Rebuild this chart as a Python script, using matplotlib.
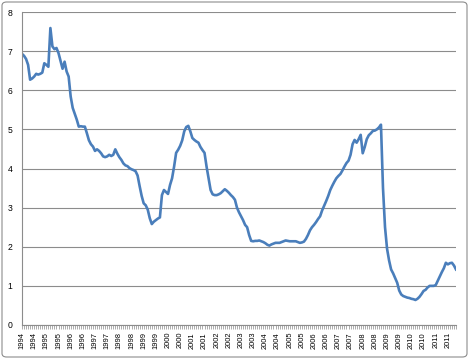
import matplotlib.pyplot as plt
from matplotlib.patches import FancyBboxPatch
from matplotlib.ticker import FixedLocator, MultipleLocator

# monthly values, Jan 1994 .. Nov 2011
y1994 = [6.93, 6.88, 6.80, 6.65, 6.27, 6.30, 6.35, 6.42, 6.40, 6.42, 6.45, 6.69]
y1995 = [6.65, 6.60, 7.59, 7.12, 7.05, 7.08, 6.95, 6.75, 6.55, 6.73, 6.48, 6.35]
y1996 = [5.84, 5.55, 5.40, 5.25, 5.07, 5.08, 5.07, 5.07, 4.90, 4.72, 4.62, 4.56]
y1997 = [4.45, 4.49, 4.45, 4.39, 4.31, 4.29, 4.31, 4.35, 4.32, 4.35, 4.49, 4.38]
y1998 = [4.29, 4.22, 4.13, 4.08, 4.06, 4.01, 3.98, 3.96, 3.93, 3.82, 3.55, 3.30]
y1999 = [3.11, 3.06, 2.95, 2.73, 2.58, 2.64, 2.68, 2.72, 2.75, 3.32, 3.45, 3.40]
y2000 = [3.35, 3.58, 3.75, 4.05, 4.40, 4.48, 4.58, 4.72, 4.95, 5.06, 5.09, 4.95]
y2001 = [4.78, 4.73, 4.69, 4.66, 4.55, 4.47, 4.40, 4.05, 3.75, 3.45, 3.34, 3.32]
y2002 = [3.32, 3.34, 3.37, 3.42, 3.47, 3.43, 3.38, 3.32, 3.27, 3.20, 3.00, 2.88]
y2003 = [2.78, 2.68, 2.56, 2.50, 2.30, 2.15, 2.14, 2.15, 2.15, 2.16, 2.14, 2.12]
y2004 = [2.09, 2.05, 2.03, 2.06, 2.08, 2.10, 2.10, 2.10, 2.12, 2.14, 2.16, 2.15]
y2005 = [2.14, 2.14, 2.14, 2.14, 2.12, 2.10, 2.11, 2.13, 2.20, 2.30, 2.42, 2.50]
y2006 = [2.56, 2.63, 2.71, 2.78, 2.93, 3.05, 3.17, 3.30, 3.45, 3.56, 3.66, 3.75]
y2007 = [3.81, 3.86, 3.95, 4.05, 4.14, 4.20, 4.35, 4.62, 4.73, 4.66, 4.75, 4.86]
y2008 = [4.39, 4.55, 4.75, 4.85, 4.90, 4.96, 4.97, 5.00, 5.05, 5.12, 3.50, 2.50]
y2009 = [1.95, 1.65, 1.42, 1.32, 1.20, 1.08, 0.88, 0.78, 0.74, 0.72, 0.70, 0.69]
y2010 = [0.67, 0.66, 0.64, 0.67, 0.72, 0.79, 0.87, 0.90, 0.96, 1.00, 1.00, 1.00]
y2011 = [1.02, 1.13, 1.24, 1.35, 1.45, 1.59, 1.55, 1.58, 1.59, 1.52, 1.42]

years = [y1994, y1995, y1996, y1997, y1998, y1999, y2000, y2001, y2002,
         y2003, y2004, y2005, y2006, y2007, y2008, y2009, y2010, y2011]
first_year = 1994

values = [v for yr in years for v in yr]
months = list(range(len(values)))
label_pos = list(range(0, len(values) + 1, 6))
label_txt = [str(first_year + m // 12) for m in label_pos]
y_ticks = [0, 1, 2, 3, 4, 5, 6, 7, 8]

plt.rcParams["font.family"] = ["Liberation Sans", "DejaVu Sans"]

fig = plt.figure(figsize=(4.69, 3.59), dpi=100)
ax = fig.add_axes([22 / 469, 1 - 325 / 359, 434 / 469, 313 / 359])

ax.plot(months, values, color="#4a7ebb", lw=1.9, solid_joinstyle="round")

ax.set_xlim(0, len(values) - 1)
ax.set_ylim(0, 8)
ax.set_yticks(y_ticks)
ax.yaxis.grid(True, color="#8c8c8c", lw=0.8)
ax.set_axisbelow(True)

ax.xaxis.set_major_locator(FixedLocator(label_pos))
ax.set_xticklabels(label_txt, rotation=90, fontsize=5.4)
ax.xaxis.set_minor_locator(MultipleLocator(1))
ax.tick_params(axis="x", which="both", length=3, width=0.5, color="#8c8c8c", pad=2)
ax.tick_params(axis="y", length=0, pad=7, labelsize=6.2)

for s in ["top", "right"]:
    ax.spines[s].set_visible(False)
for s in ["left", "bottom"]:
    ax.spines[s].set_color("#8c8c8c")
    ax.spines[s].set_linewidth(0.8)

border = FancyBboxPatch((2 / 469, 2 / 359), 465 / 469, 355 / 359,
                        boxstyle="round,pad=0,rounding_size=0.01",
                        transform=fig.transFigure, fill=False,
                        ec="#8c8c8c", lw=0.8)
fig.patches.append(border)

fig.savefig("out.png", dpi=100)
